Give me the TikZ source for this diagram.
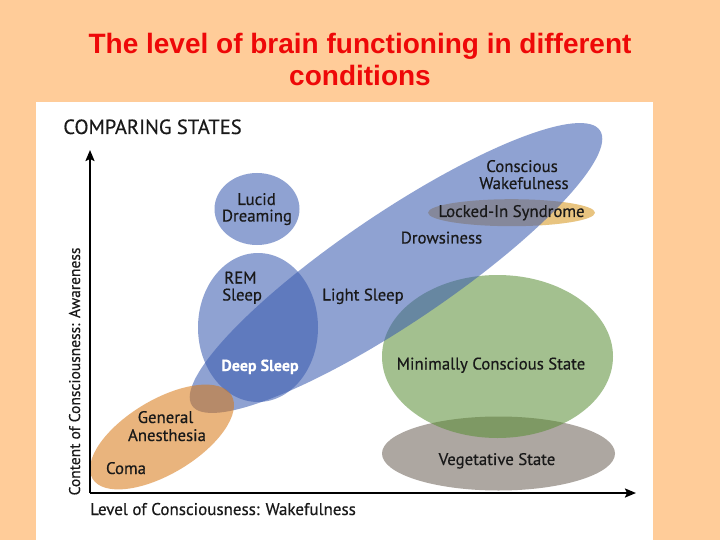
\documentclass[tikz,border=0pt]{standalone}
\usepackage{fontspec}
\setmainfont{Liberation Sans}
\newfontfamily\dfont[FakeBold=0.5]{PT Sans}
\usetikzlibrary{arrows.meta}
\definecolor{bg}{RGB}{255,204,153}
\definecolor{titlered}{RGB}{238,8,8}
\definecolor{blueC}{RGB}{59,92,176}
\definecolor{orangeC}{RGB}{215,119,19}
\definecolor{greenC}{RGB}{88,142,51}
\definecolor{grayC}{RGB}{173,167,161}
\definecolor{goldC}{RGB}{232,196,128}
\definecolor{ink}{RGB}{25,25,25}
\begin{document}
\begin{tikzpicture}[x=1pt,y=-1pt,
  titletext/.style={font=\bfseries\fontsize{28}{32}\selectfont, text=titlered, inner sep=0pt, anchor=base},
  lbl/.style={font=\dfont\fontsize{16.8}{18}\selectfont, text=ink, inner sep=0pt, anchor=base},
  axislbl/.style={font=\dfont\fontsize{17}{18}\selectfont, text=ink, inner sep=0pt, anchor=base},
  bluefill/.style={fill=blueC, fill opacity=0.57},
  axis/.style={line width=2pt, draw=black, -{Stealth[length=11pt,width=9pt,inset=2pt]}}]
\useasboundingbox (0,0) rectangle (720,540);
\fill[bg] (0,0) rectangle (720,540);
\fill[white] (36,102) rectangle (653,540);
% title
\node[titletext] (t1) at (360,54) {The level of brain functioning in different};
\node[titletext] (t2) at (360,86) {conditions};
% shapes
\fill[grayC] (498.5,453.5) ellipse [x radius=116.5pt, y radius=37pt];
\fill[goldC] (511.5,212.7) ellipse [x radius=83.5pt, y radius=13.5pt];
\fill[greenC, fill opacity=0.55] (497.5,356.5) ellipse [x radius=115.5pt, y radius=81.5pt];
\fill[bluefill, rotate around={34:(396,268)}] (396,268) ellipse [x radius=246pt, y radius=55pt];
\fill[bluefill] (258,327.5) ellipse [x radius=60pt, y radius=74.5pt];
\fill[bluefill] (257,209) ellipse [x radius=42.5pt, y radius=36pt];
\fill[orangeC, fill opacity=0.55, rotate around={31:(162,437)}] (162,437) ellipse [x radius=81pt, y radius=37pt];
% axes
\coordinate (O) at (90,493);
\coordinate (ytip) at (90,150);
\coordinate (xtip) at (636,493);
\draw[axis] (O) -- (ytip);
\draw[axis] (O) -- (xtip);
% texts
\node[lbl, font=\dfont\fontsize{20.5}{22}\selectfont] (comp) at (152.5,134) {COMPARING STATES};
\node[axislbl] (xl) at (223,515) {Level of Consciousness: Wakefulness};
\node[axislbl, font=\dfont\fontsize{15.5}{18}\selectfont, rotate=90] (yl) at (80,371.5) {Content of Consciousness: Awareness};
\node[lbl] (lucid) at (256.5,205) {Lucid};
\node[lbl] (dream) at (257,221.5) {Dreaming};
\node[lbl] (consc) at (522,172) {Conscious};
\node[lbl] (wake) at (524,189) {Wakefulness};
\node[lbl] (locked) at (511.5,217) {Locked-In Syndrome};
\node[lbl] (drows) at (441.5,243.5) {Drowsiness};
\node[lbl, anchor=base west] (rem) at (224,283.5) {REM};
\node[lbl, anchor=base west] (sleep) at (222,300.5) {Sleep};
\node[lbl] (light) at (363,300.5) {Light Sleep};
\node[lbl, font=\dfont\bfseries\fontsize{16}{18}\selectfont, text=white] (deep) at (260,371) {Deep Sleep};
\node[lbl] (mcs) at (491,369.5) {Minimally Conscious State};
\node[lbl] (gen) at (165.5,423) {General};
\node[lbl] (anes) at (167,441) {Anesthesia};
\node[lbl] (coma) at (126,474) {Coma};
\node[lbl] (veg) at (497,465) {Vegetative State};
\end{tikzpicture}
\end{document}
